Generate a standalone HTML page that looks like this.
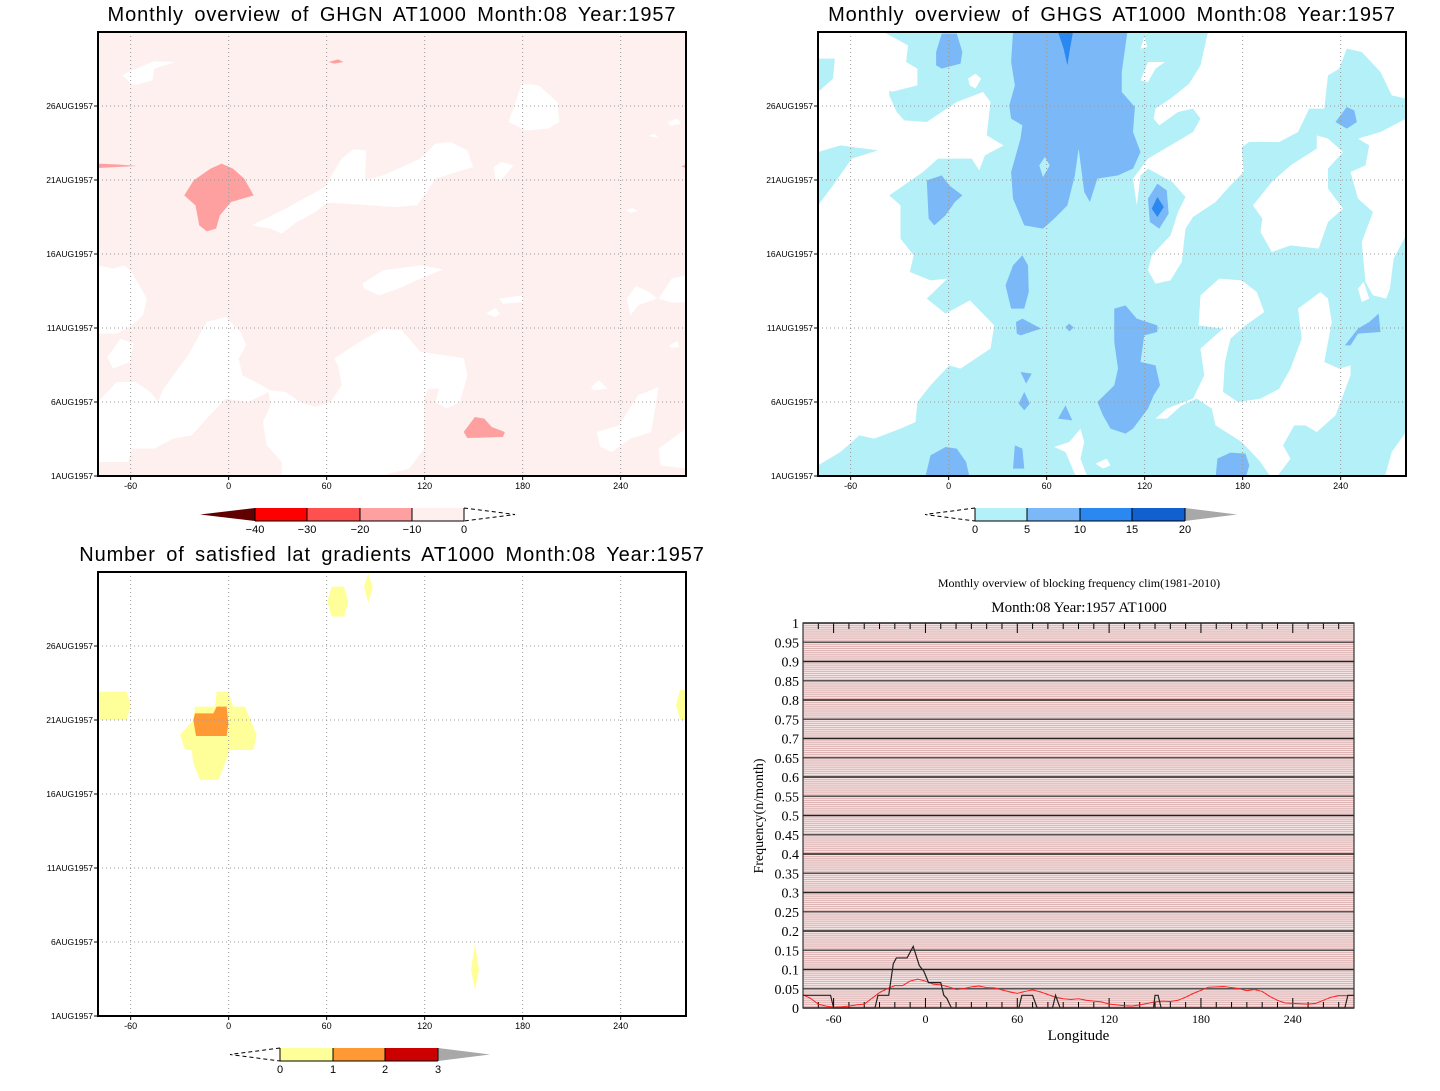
<!DOCTYPE html>
<html><head><meta charset="utf-8">
<style>
html,body{margin:0;padding:0;background:#fff;}
body{width:1440px;height:1091px;overflow:hidden;position:relative;font-family:"Liberation Sans",sans-serif;}
svg{position:absolute;left:0;top:0;}
.t{font-family:"Liberation Sans",sans-serif;font-size:20px;fill:#000;letter-spacing:0.9px;word-spacing:4px;}
.tk{font-family:"Liberation Sans",sans-serif;font-size:9px;fill:#000;}
.sf{font-family:"Liberation Serif",serif;fill:#000;}
</style></head>
<body>
<svg id="root" width="1440" height="1091" viewBox="0 0 1440 1091">
<defs>
<pattern id="stripes" width="10" height="1.925" patternUnits="userSpaceOnUse" y="623">
<rect width="10" height="1.925" fill="#f6e8e8"/>
<rect width="10" height="0.8" fill="#d9a6a6"/>
</pattern>
<clipPath id="c1"><rect x="98" y="32" width="588" height="444"/></clipPath>
<clipPath id="c2"><rect x="818" y="32" width="588" height="444"/></clipPath>
<clipPath id="c3"><rect x="98" y="572" width="588" height="444"/></clipPath>
</defs>

<!-- Panel 1 -->
<text class="t" x="392" y="21" text-anchor="middle">Monthly overview of GHGN AT1000 Month:08 Year:1957</text>
<g clip-path="url(#c1)">
<rect x="98" y="32" width="588" height="444" fill="#fff0f0"/>
<g transform="translate(98,32) scale(0.375,0.33333)" fill="#fff">
<polygon points="65,130 90,115 150,88 205,90 150,110 145,145 95,160"/>
<polygon points="1095,270 1130,155 1175,160 1225,210 1230,270 1200,290 1140,295"/>
<polygon points="410,580 500,530 605,465 650,380 680,352 715,355 712,445 760,430 860,380 900,335 940,330 985,355 1000,405 900,440 870,490 850,520 790,525 700,518 610,512 580,540 530,570 490,605 460,590"/>
<polygon points="1055,405 1075,390 1108,400 1075,445 1060,440"/>
<polygon points="0,700 40,710 70,700 90,720 130,800 120,850 90,880 50,905 0,905"/>
<polygon points="705,755 760,715 860,700 920,712 860,740 800,770 750,790 710,770"/>
<polygon points="1070,800 1130,790 1135,810 1080,815"/>
<polygon points="1035,845 1060,828 1072,845 1060,855"/>
<polygon points="1410,800 1435,762 1470,780 1490,800 1440,820 1420,850"/>
<polygon points="1495,800 1530,740 1568,730 1568,810 1530,812"/>
<polygon points="0,1110 50,1050 100,1050 140,1080 160,1110 175,1070 240,970 290,870 340,855 380,900 395,940 375,980 385,1030 420,1050 460,1075 500,1080 540,1110 580,1125 620,1110 650,1060 640,1000 630,980 690,935 760,890 810,895 860,960 975,978 985,1030 965,1110 930,1130 900,1110 910,1070 880,1070 870,1100 870,1250 830,1310 720,1340 490,1340 490,1290 450,1240 440,1170 460,1120 455,1080 400,1110 340,1100 290,1160 250,1210 200,1220 150,1250 90,1250 80,1290 0,1290"/>
<polygon points="25,975 60,920 95,935 85,990 40,1010"/>
<polygon points="1330,1200 1390,1180 1440,1090 1495,1065 1475,1200 1420,1220 1370,1260 1340,1245"/>
<polygon points="1495,1250 1568,1190 1568,1310 1500,1300"/>
<polygon points="1315,1065 1335,1045 1360,1070 1320,1075"/>
<polygon points="1522,940 1545,928 1550,945 1530,948"/>
<polygon points="1520,270 1545,260 1555,275 1525,282"/>
<polygon points="1468,312 1485,305 1495,318"/>
<polygon points="1408,535 1425,528 1440,537 1420,542"/>
</g>
<g transform="translate(98,32) scale(0.375,0.33333)" fill="#ffa0a0">
<polygon points="230,490 255,445 300,410 330,395 360,410 390,440 415,490 355,510 325,550 315,590 290,598 270,580 260,520"/>
<polygon points="975,1200 1005,1155 1030,1160 1050,1185 1085,1200 1080,1215 985,1218"/>
<polygon points="0,395 60,398 105,402 0,408"/>
<polygon points="615,90 640,82 655,90 630,95"/>
<polygon points="1555,403 1568,398 1568,408"/>
</g>
</g>
<g id="axes1"></g>

<!-- Panel 2 -->
<text class="t" x="1112" y="21" text-anchor="middle">Monthly overview of GHGS AT1000 Month:08 Year:1957</text>
<g clip-path="url(#c2)">
<rect x="818" y="32" width="588" height="444" fill="#b4f0f8"/>
<g transform="translate(818,32) scale(0.375,0.33333)" fill="#fff">
<polygon points="0,0 175,0 240,40 235,90 265,110 265,160 195,180 240,200 230,265 290,270 370,210 440,180 460,210 450,310 495,340 445,370 430,415 410,380 320,380 280,420 190,490 220,520 220,620 255,670 245,720 300,745 345,740 290,800 340,845 405,805 470,880 460,950 380,1010 350,1000 300,1060 265,1110 260,1170 220,1190 150,1220 110,1210 60,1260 0,1300"/>
<polygon points="400,140 420,125 435,140 420,170 405,160"/>
<polygon points="1040,0 1568,0 1568,200 1530,190 1500,120 1450,60 1410,50 1390,110 1360,130 1350,230 1310,230 1280,300 1230,330 1150,330 1130,345 1135,420 1100,460 1060,510 1000,555 980,590 970,690 940,745 900,755 880,715 890,670 940,610 960,540 980,495 945,450 880,410 860,430 850,520 840,440 880,380 940,340 1000,300 1020,260 1000,230 960,240 910,280 895,260 900,230 940,200 990,155 1020,100 1030,50"/>
<polygon points="860,50 870,15 878,45"/>
<polygon points="860,145 880,90 925,90 900,110 880,150"/>
<polygon points="1160,520 1210,450 1260,400 1330,350 1330,310 1360,320 1400,360 1360,410 1360,470 1400,530 1360,570 1335,650 1260,640 1210,660 1180,600 1185,560"/>
<polygon points="1440,320 1500,300 1568,260 1568,610 1535,680 1525,770 1515,800 1480,790 1460,750 1450,630 1480,540 1440,500 1420,420 1460,400 1470,340"/>
<polygon points="1015,880 1020,790 1070,740 1130,745 1170,780 1190,840 1140,880 1100,920 1085,990 1080,1080 1120,1110 1180,1100 1230,1070 1260,1010 1290,920 1280,830 1340,780 1360,800 1370,870 1350,990 1390,1010 1420,1000 1420,1030 1380,1150 1330,1200 1300,1180 1270,1180 1240,1240 1260,1280 1220,1340 1210,1340 1180,1290 1130,1230 1060,1180 1050,1130 1010,1100 970,1120 930,1160 900,1160 930,1130 1000,1100 1030,1030 1020,950 1080,890"/>
<polygon points="1510,1340 1530,1260 1568,1200 1568,1340"/>
<polygon points="630,1245 670,1230 700,1190 710,1230 700,1280 720,1340 690,1340 660,1260"/>
<polygon points="740,1295 770,1280 780,1300 760,1310"/>
<polygon points="1440,770 1455,750 1470,800 1450,810"/>
</g>
<g transform="translate(818,32) scale(0.375,0.33333)" fill="#b4f0f8">
<polygon points="0,80 45,80 40,140 0,180"/>
<polygon points="0,360 60,340 160,355 90,380 40,460 0,520"/>
<polygon points="190,175 240,200 230,265 210,240 190,190"/>
</g>
<g transform="translate(818,32) scale(0.375,0.33333)" fill="#7ab8f8">
<polygon points="520,0 825,0 810,120 810,180 845,225 840,300 860,360 840,410 800,430 745,440 725,510 710,480 695,350 685,430 665,520 630,560 600,590 550,580 520,500 515,420 540,320 545,280 515,260 510,220 525,160 515,90"/>
<polygon points="315,60 330,5 370,5 385,60 380,95 330,110 315,100"/>
<polygon points="290,445 330,430 350,460 385,490 365,510 340,550 310,580 295,560"/>
<polygon points="880,500 905,455 930,475 935,545 910,590 885,570"/>
<polygon points="500,760 520,700 545,670 560,700 562,780 550,830 515,830"/>
<polygon points="528,870 545,860 595,890 540,910 530,905"/>
<polygon points="660,885 670,875 682,887 670,898"/>
<polygon points="745,1110 790,1060 800,1010 790,930 790,830 820,820 850,860 905,880 905,900 870,910 860,990 900,1000 912,1060 895,1090 880,1130 840,1190 820,1205 780,1190 760,1150"/>
<polygon points="1380,270 1410,225 1430,235 1437,270 1410,290"/>
<polygon points="1405,940 1440,890 1470,870 1495,845 1500,900 1440,905 1420,940"/>
<polygon points="285,1340 300,1270 340,1245 370,1250 395,1290 405,1340"/>
<polygon points="1060,1340 1065,1280 1100,1262 1140,1265 1150,1300 1140,1340"/>
<polygon points="520,1310 525,1240 545,1250 550,1310"/>
<polygon points="540,1020 570,1025 555,1055"/>
<polygon points="535,1115 550,1080 565,1115 550,1135"/>
<polygon points="640,1160 660,1120 678,1165"/>
</g>
<g transform="translate(818,32) scale(0.375,0.33333)" fill="#b4f0f8">
<polygon points="590,400 605,375 618,400 600,435"/>
</g>
<g transform="translate(818,32) scale(0.375,0.33333)" fill="#2a88f0">
<polygon points="640,0 680,0 672,50 665,100 655,50"/>
<polygon points="890,530 905,495 922,525 905,555"/>
</g>
</g>
<g id="axes2"></g>

<!-- Panel 3 -->
<text class="t" x="392" y="561" text-anchor="middle">Number of satisfied lat gradients AT1000 Month:08 Year:1957</text>
<g clip-path="url(#c3)">
<rect x="98" y="572" width="588" height="444" fill="#fff"/>
<g transform="translate(90,570) scale(0.33333)">
<g fill="#ffff99">
<polygon points="315,410 375,410 380,365 415,365 430,410 465,410 500,495 490,540 420,540 405,580 385,630 330,630 310,580 305,540 285,540 270,495 310,450"/>
<polygon points="25,365 110,365 122,405 110,450 25,450"/>
<polygon points="712,95 725,50 762,50 775,95 762,140 725,140"/>
<polygon points="822,50 835,10 848,50 835,100"/>
<polygon points="1143,1200 1155,1120 1167,1200 1155,1260"/>
<polygon points="1758,405 1770,360 1800,360 1800,450 1770,450"/>
</g>
<polygon fill="#ff9933" points="315,430 370,430 380,410 410,410 415,460 410,498 318,498 310,450"/>
</g>
</g>
<g id="axes3"></g>

<!-- Colorbars -->
<g>
<polygon points="200,514.5 255,508 255,521" fill="#600000"/>
<rect x="255" y="508" width="52" height="13" fill="#ff0000"/>
<rect x="307" y="508" width="53" height="13" fill="#ff5050"/>
<rect x="360" y="508" width="52" height="13" fill="#ffa0a0"/>
<rect x="412" y="508" width="52" height="13" fill="#fff0f0"/>
<path d="M255,508V521M307,508V521M360,508V521M412,508V521M255,521H464V508" stroke="#000" stroke-width="1" fill="none"/>
<path d="M464,508 L515,514.5 L464,521" stroke="#000" stroke-dasharray="4,3" fill="none"/>
<g class="tk" style="font-size:11px" text-anchor="middle">
<text x="255" y="533">−40</text><text x="307" y="533">−30</text><text x="360" y="533">−20</text><text x="412" y="533">−10</text><text x="464" y="533">0</text>
</g>
</g>
<g>
<rect x="975" y="508" width="52" height="13" fill="#b4f0f8"/>
<rect x="1027" y="508" width="53" height="13" fill="#7ab8f8"/>
<rect x="1080" y="508" width="52" height="13" fill="#2a88f0"/>
<rect x="1132" y="508" width="53" height="13" fill="#1060d0"/>
<polygon points="1185,508 1237,514.5 1185,521" fill="#a8a8a8"/>
<path d="M975,508V521M1027,508V521M1080,508V521M1132,508V521M1185,508V521M975,521H1185" stroke="#000" fill="none"/>
<path d="M975,508 L925,514.5 L975,521" stroke="#000" stroke-dasharray="4,3" fill="none"/>
<g class="tk" style="font-size:11px" text-anchor="middle">
<text x="975" y="533">0</text><text x="1027" y="533">5</text><text x="1080" y="533">10</text><text x="1132" y="533">15</text><text x="1185" y="533">20</text>
</g>
</g>
<g>
<rect x="280" y="1048" width="53" height="13" fill="#ffff99"/>
<rect x="333" y="1048" width="52" height="13" fill="#ff9933"/>
<rect x="385" y="1048" width="53" height="13" fill="#cc0000"/>
<polygon points="438,1048 490,1054.5 438,1061" fill="#a8a8a8"/>
<path d="M280,1048V1061M333,1048V1061M385,1048V1061M438,1048V1061M280,1061H438" stroke="#000" fill="none"/>
<path d="M280,1048 L230,1054.5 L280,1061" stroke="#000" stroke-dasharray="4,3" fill="none"/>
<g class="tk" style="font-size:11px" text-anchor="middle">
<text x="280" y="1073">0</text><text x="333" y="1073">1</text><text x="385" y="1073">2</text><text x="438" y="1073">3</text>
</g>
</g>

<!-- Panel 4 -->
<text class="sf" x="1079" y="587" font-size="12" text-anchor="middle">Monthly overview of blocking frequency clim(1981-2010)</text>
<text class="sf" x="1079" y="612" font-size="15" text-anchor="middle">Month:08 Year:1957  AT1000</text>
<g id="chart4"></g>
</svg>

<script>
// ---------- chart data ----------
var mapXTicks = [-60, 0, 60, 120, 180, 240];
var mapYTickLabels = ["1AUG1957","6AUG1957","11AUG1957","16AUG1957","21AUG1957","26AUG1957"];
var mapYTickDays = [1, 6, 11, 16, 21, 26];
var freqYTicks = [0,0.05,0.1,0.15,0.2,0.25,0.3,0.35,0.4,0.45,0.5,0.55,0.6,0.65,0.7,0.75,0.8,0.85,0.9,0.95,1];
var freqYLabels = ["0","0.05","0.1","0.15","0.2","0.25","0.3","0.35","0.4","0.45","0.5","0.55","0.6","0.65","0.7","0.75","0.8","0.85","0.9","0.95","1"];
var blockLon = [-80,-62,-60,-33,-31,-24,-21,-19,-12,-8,-4,-1,2,10,12,14,17,61,63,70,73,83,85,88,149,150,152,154,274,276,280];
var blockFreq = [0.033,0.033,0,0,0.033,0.033,0.115,0.13,0.13,0.16,0.11,0.095,0.066,0.066,0.033,0.025,0,0,0.033,0.033,0,0,0.033,0,0,0.033,0.033,0,0,0.033,0.033];
var climLon = [-80,-75,-70,-65,-60,-55,-50,-45,-40,-35,-30,-25,-20,-15,-10,-5,0,5,10,15,20,25,30,35,40,45,50,55,60,65,70,75,80,85,90,95,100,105,110,115,120,125,130,135,140,145,150,155,160,165,170,175,180,185,190,195,200,205,210,215,220,225,230,235,240,245,250,255,260,265,270,275,280];
var climFreq = [0.035,0.025,0.01,0.005,0.002,0.003,0.005,0.008,0.01,0.025,0.04,0.05,0.058,0.058,0.07,0.075,0.07,0.062,0.06,0.055,0.048,0.05,0.055,0.057,0.053,0.052,0.047,0.042,0.038,0.043,0.047,0.042,0.035,0.028,0.024,0.022,0.024,0.02,0.018,0.016,0.01,0.008,0.006,0.005,0.008,0.012,0.016,0.018,0.017,0.02,0.028,0.038,0.046,0.054,0.055,0.056,0.053,0.05,0.045,0.048,0.043,0.03,0.02,0.013,0.012,0.011,0.01,0.012,0.02,0.028,0.032,0.032,0.033];

var NS = "http://www.w3.org/2000/svg";
function mk(tag, attrs, parent) {
  var e = document.createElementNS(NS, tag);
  for (var k in attrs) e.setAttribute(k, attrs[k]);
  if (parent) parent.appendChild(e);
  return e;
}

function mapAxes(gid, x0, y0, prefix) {
  var g = document.getElementById(gid);
  var w = 588, h = 444;
  var lonX = function (l) { return x0 + (l + 80) / 360 * w; };
  var dayY = function (d) { return y0 + h - (d - 1) * 14.8; };
  mapXTicks.forEach(function (t) {
    var ln = mk("line", {x1: lonX(t), x2: lonX(t), y1: y0, y2: y0 + h, stroke: "#999", "stroke-width": 1, "stroke-dasharray": "1,3"}, g);
    
    
    mk("line", {x1: lonX(t), x2: lonX(t), y1: y0 + h, y2: y0 + h + 4, stroke: "#000"}, g);
    var tx = mk("text", {x: lonX(t), y: y0 + h + 13, "class": "tk", "text-anchor": "middle"}, g);
    tx.textContent = t;
    
    
  });
  mapYTickDays.forEach(function (d, i) {
    if (i > 0) {
      var ln = mk("line", {x1: x0, x2: x0 + w, y1: dayY(d), y2: dayY(d), stroke: "#999", "stroke-width": 1, "stroke-dasharray": "1,3"}, g);
      
      
    }
    mk("line", {x1: x0 - 4, x2: x0, y1: dayY(d), y2: dayY(d), stroke: "#000"}, g);
    var tx = mk("text", {x: x0 - 5, y: dayY(d) + 3, "class": "tk", "text-anchor": "end", style: "font-size:8.5px"}, g);
    tx.textContent = mapYTickLabels[i];
    
    
  });
  var fr = mk("rect", {x: x0, y: y0, width: w, height: h, fill: "none", stroke: "#000", "stroke-width": 2}, g);
  
  
}
mapAxes("axes1", 98, 32, "ghgn");
mapAxes("axes2", 818, 32, "ghgs");
mapAxes("axes3", 98, 572, "lat-gradients");

// ---------- frequency chart ----------
(function () {
  var g = document.getElementById("chart4");
  var x0 = 803, x1 = 1354, y0 = 623, y1 = 1008;
  var xs = function (l) { return x0 + (l + 80) / 360 * (x1 - x0); };
  var ys = function (v) { return y1 - v * (y1 - y0); };
  var bg = mk("rect", {x: x0, y: y0, width: x1 - x0, height: y1 - y0, fill: "url(#stripes)"}, g);
  
  
  freqYTicks.forEach(function (v, i) {
    var ln = mk("line", {x1: x0, x2: x1, y1: ys(v), y2: ys(v), stroke: (i % 2 ? "#555" : "#222"), "stroke-width": 1.4}, g);
    
    
    var tx = mk("text", {x: x0 - 4, y: ys(v) + 5, "class": "sf", "font-size": 14, "text-anchor": "end"}, g);
    tx.textContent = freqYLabels[i];
    
    
  });
  for (var l = -70; l <= 270; l += 10) {
    var major = (l % 60 === 0);
    var len = major ? 10 : 6;
    mk("line", {x1: xs(l), x2: xs(l), y1: y1, y2: y1 - len, stroke: "#000"}, g);
    mk("line", {x1: xs(l), x2: xs(l), y1: y0, y2: y0 + len, stroke: "#000"}, g);
  }
  mapXTicks.forEach(function (t) {
    var tx = mk("text", {x: xs(t), y: y1 + 15, "class": "sf", "font-size": 12, "text-anchor": "middle"}, g);
    tx.textContent = t;
    
    
  });
  var clim = mk("polyline", {points: climLon.map(function (l, i) { return xs(l) + "," + ys(climFreq[i]); }).join(" "), fill: "none", stroke: "#ff2020", "stroke-width": 1}, g);
  
  
  var blk = mk("polyline", {points: blockLon.map(function (l, i) { return xs(l) + "," + ys(blockFreq[i]); }).join(" "), fill: "none", stroke: "#222", "stroke-width": 1.2}, g);
  
  
  var fr = mk("rect", {x: x0, y: y0, width: x1 - x0, height: y1 - y0, fill: "none", stroke: "#333", "stroke-width": 1.2}, g);
  
  
  var xt = mk("text", {x: (x0 + x1) / 2, y: y1 + 32, "class": "sf", "font-size": 15, "text-anchor": "middle"}, g);
  xt.textContent = "Longitude";
  
  
  var yt = mk("text", {x: 0, y: 0, "class": "sf", "font-size": 14, "text-anchor": "middle", transform: "translate(763,816) rotate(-90)"}, g);
  yt.textContent = "Frequency(n/month)";
  
  
})();
</script>
</body></html>
